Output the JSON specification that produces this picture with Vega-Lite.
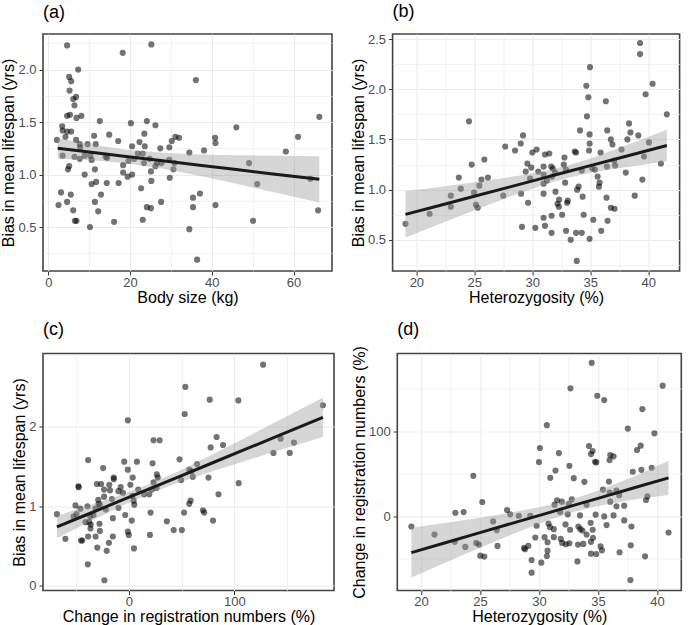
{
  "$schema": "https://vega.github.io/schema/vega-lite/v6.json",
  "padding": {"left": 0, "top": 2, "right": 0, "bottom": 0},
  "background": "white",
  "config": {
    "font": "Liberation Sans",
    "view": {"stroke": "#444444", "strokeWidth": 1.6},
    "axis": {"domain": false, "tickCount": 100, "gridColor": "#EBEBEB", "tickColor": "#333333", "tickSize": 4, "tickWidth": 1, "labelPadding": 3, "labelColor": "#4D4D4D", "labelFontSize": 13, "titleFontSize": 16, "titleFontWeight": "normal", "titleColor": "#000000"},
    "axisX": {"titlePadding": 0, "labelPadding": 1},
    "axisY": {"titlePadding": 1},
    "title": {"fontSize": 18, "fontWeight": "normal", "anchor": "start", "frame": "group", "baseline": "alphabetic", "offset": 12, "color": "#000000"}
  },
  "datasets": {
    "a_pts": [
      {"x":4.6,"y":2.23},{"x":18.2,"y":2.16},{"x":25.2,"y":2.24},{"x":7.3,"y":2.0},{"x":36.1,"y":1.9},{"x":5.1,"y":1.93},{"x":5.6,"y":1.89},{"x":5.2,"y":1.8},{"x":6.1,"y":1.72},{"x":6.8,"y":1.74},{"x":6.4,"y":1.66},{"x":5.3,"y":1.57},{"x":4.6,"y":1.56},{"x":6.9,"y":1.54},{"x":8.1,"y":1.56},{"x":66.3,"y":1.55},{"x":12.6,"y":1.51},{"x":24.1,"y":1.51},{"x":20.2,"y":1.49},{"x":26.2,"y":1.47},{"x":3.4,"y":1.46},{"x":46.0,"y":1.45},{"x":3.5,"y":1.42},{"x":4.6,"y":1.41},{"x":5.6,"y":1.41},{"x":4.2,"y":1.36},{"x":23.5,"y":1.39},{"x":14.9,"y":1.38},{"x":2.1,"y":1.33},{"x":6.8,"y":1.33},{"x":11.2,"y":1.37},{"x":40.8,"y":1.35},{"x":61.1,"y":1.36},{"x":31.1,"y":1.36},{"x":32.0,"y":1.35},{"x":30.2,"y":1.32},{"x":17.1,"y":1.32},{"x":22.3,"y":1.31},{"x":40.9,"y":1.3},{"x":7.7,"y":1.29},{"x":9.6,"y":1.29},{"x":11.6,"y":1.29},{"x":7.8,"y":1.26},{"x":23.6,"y":1.27},{"x":20.5,"y":1.27},{"x":27.4,"y":1.25},{"x":29.6,"y":1.26},{"x":38.1,"y":1.23},{"x":58.1,"y":1.22},{"x":34.5,"y":1.21},{"x":21.9,"y":1.2},{"x":23.1,"y":1.2},{"x":3.5,"y":1.18},{"x":6.4,"y":1.17},{"x":8.9,"y":1.18},{"x":10.3,"y":1.18},{"x":14.0,"y":1.17},{"x":14.4,"y":1.16},{"x":21.0,"y":1.15},{"x":7.7,"y":1.15},{"x":10.6,"y":1.14},{"x":24.8,"y":1.15},{"x":19.6,"y":1.13},{"x":29.6,"y":1.14},{"x":26.6,"y":1.11},{"x":27.7,"y":1.11},{"x":23.4,"y":1.11},{"x":49.1,"y":1.11},{"x":30.9,"y":1.11},{"x":4.8,"y":1.05},{"x":5.1,"y":1.08},{"x":11.4,"y":1.05},{"x":18.3,"y":1.09},{"x":26.2,"y":1.08},{"x":30.6,"y":1.05},{"x":18.3,"y":1.02},{"x":25.1,"y":1.03},{"x":20.5,"y":1.0},{"x":8.9,"y":1.0},{"x":19.4,"y":0.98},{"x":29.7,"y":0.97},{"x":64.1,"y":0.96},{"x":25.2,"y":0.94},{"x":10.6,"y":0.91},{"x":11.7,"y":0.93},{"x":14.3,"y":0.92},{"x":17.2,"y":0.92},{"x":51.1,"y":0.91},{"x":22.7,"y":0.87},{"x":3.1,"y":0.83},{"x":12.9,"y":0.81},{"x":5.5,"y":0.81},{"x":37.1,"y":0.82},{"x":35.4,"y":0.78},{"x":2.5,"y":0.71},{"x":4.6,"y":0.74},{"x":11.4,"y":0.74},{"x":27.6,"y":0.74},{"x":40.9,"y":0.71},{"x":35.4,"y":0.69},{"x":24.1,"y":0.69},{"x":25.1,"y":0.68},{"x":6.1,"y":0.66},{"x":12.2,"y":0.65},{"x":66.0,"y":0.66},{"x":23.1,"y":0.57},{"x":6.5,"y":0.56},{"x":6.9,"y":0.56},{"x":16.1,"y":0.55},{"x":50.1,"y":0.56},{"x":10.2,"y":0.5},{"x":34.5,"y":0.48},{"x":36.4,"y":0.19}
    ],
    "a_fit": [
      {"x":2.3,"lo":1.152,"fit":1.25,"hi":1.348},{"x":10,"lo":1.139,"fit":1.2145,"hi":1.29},{"x":19,"lo":1.109,"fit":1.173,"hi":1.237},{"x":28,"lo":1.056,"fit":1.1315,"hi":1.207},{"x":37,"lo":0.988,"fit":1.09,"hi":1.192},{"x":46,"lo":0.912,"fit":1.048,"hi":1.184},{"x":56,"lo":0.825,"fit":1.002,"hi":1.179},{"x":66.3,"lo":0.735,"fit":0.955,"hi":1.175}
    ],
    "b_pts": [
      {"x":39.29,"y":2.46},{"x":39.29,"y":2.35},{"x":34.97,"y":2.22},{"x":40.37,"y":2.055},{"x":34.66,"y":2.035},{"x":39.77,"y":1.95},{"x":34.83,"y":1.92},{"x":36.34,"y":1.88},{"x":24.54,"y":1.68},{"x":41.6,"y":1.75},{"x":38.34,"y":1.66},{"x":34.71,"y":1.73},{"x":34.11,"y":1.59},{"x":36.46,"y":1.59},{"x":38.46,"y":1.57},{"x":34.94,"y":1.55},{"x":29.2,"y":1.54},{"x":39.14,"y":1.54},{"x":36.77,"y":1.5},{"x":38.2,"y":1.5},{"x":29.0,"y":1.46},{"x":34.94,"y":1.46},{"x":40.06,"y":1.47},{"x":36.91,"y":1.45},{"x":27.66,"y":1.43},{"x":28.51,"y":1.39},{"x":30.37,"y":1.4},{"x":34.89,"y":1.39},{"x":37.69,"y":1.4},{"x":30.0,"y":1.37},{"x":33.66,"y":1.38},{"x":33.77,"y":1.37},{"x":35.89,"y":1.37},{"x":31.46,"y":1.36},{"x":31.09,"y":1.35},{"x":25.86,"y":1.3},{"x":32.77,"y":1.32},{"x":39.63,"y":1.33},{"x":37.06,"y":1.29},{"x":41.09,"y":1.26},{"x":24.77,"y":1.25},{"x":29.57,"y":1.26},{"x":32.71,"y":1.25},{"x":31.63,"y":1.23},{"x":30.97,"y":1.23},{"x":36.43,"y":1.23},{"x":37.14,"y":1.24},{"x":35.17,"y":1.21},{"x":29.91,"y":1.22},{"x":31.77,"y":1.21},{"x":38.06,"y":1.17},{"x":32.9,"y":1.2},{"x":34.26,"y":1.19},{"x":35.4,"y":1.2},{"x":31.97,"y":1.17},{"x":30.51,"y":1.18},{"x":29.43,"y":1.18},{"x":26.17,"y":1.12},{"x":23.66,"y":1.12},{"x":25.61,"y":1.1},{"x":29.8,"y":1.11},{"x":35.63,"y":1.13},{"x":39.49,"y":1.1},{"x":30.97,"y":1.15},{"x":31.71,"y":1.13},{"x":31.26,"y":1.09},{"x":32.83,"y":1.07},{"x":35.74,"y":1.03},{"x":35.8,"y":1.07},{"x":30.97,"y":1.06},{"x":34.0,"y":1.03},{"x":23.83,"y":1.01},{"x":25.43,"y":1.04},{"x":24.97,"y":0.97},{"x":29.03,"y":0.96},{"x":30.97,"y":0.96},{"x":27.49,"y":0.94},{"x":22.97,"y":0.94},{"x":33.86,"y":1.0},{"x":34.34,"y":0.93},{"x":36.4,"y":0.92},{"x":38.83,"y":0.94},{"x":32.0,"y":0.98},{"x":19.06,"y":0.66},{"x":21.14,"y":0.76},{"x":22.97,"y":0.83},{"x":25.14,"y":0.85},{"x":25.29,"y":0.82},{"x":29.63,"y":0.87},{"x":32.31,"y":0.9},{"x":33.06,"y":0.89},{"x":33.0,"y":0.87},{"x":32.17,"y":0.86},{"x":32.29,"y":0.83},{"x":32.57,"y":0.75},{"x":34.43,"y":0.75},{"x":36.77,"y":0.82},{"x":37.09,"y":0.81},{"x":30.97,"y":0.72},{"x":31.66,"y":0.74},{"x":31.09,"y":0.64},{"x":29.11,"y":0.63},{"x":30.26,"y":0.62},{"x":31.66,"y":0.57},{"x":32.91,"y":0.59},{"x":35.26,"y":0.7},{"x":36.49,"y":0.69},{"x":35.94,"y":0.59},{"x":33.77,"y":0.57},{"x":34.26,"y":0.57},{"x":33.31,"y":0.5},{"x":34.94,"y":0.51},{"x":33.83,"y":0.29}
    ],
    "b_fit": [
      {"x":19.06,"lo":0.524,"fit":0.754,"hi":0.984},{"x":22,"lo":0.658,"fit":0.842,"hi":1.026},{"x":25,"lo":0.795,"fit":0.934,"hi":1.073},{"x":28,"lo":0.927,"fit":1.025,"hi":1.123},{"x":31,"lo":1.05,"fit":1.117,"hi":1.184},{"x":33,"lo":1.117,"fit":1.178,"hi":1.239},{"x":35,"lo":1.168,"fit":1.239,"hi":1.31},{"x":38,"lo":1.224,"fit":1.33,"hi":1.436},{"x":41.6,"lo":1.283,"fit":1.44,"hi":1.597}
    ],
    "c_pts": [
      {"x":127.1,"y":2.78},{"x":53.5,"y":2.5},{"x":76.6,"y":2.34},{"x":103.7,"y":2.33},{"x":183.7,"y":2.27},{"x":52.9,"y":2.16},{"x":-0.9,"y":2.08},{"x":23.4,"y":1.83},{"x":29.2,"y":1.83},{"x":83.1,"y":1.87},{"x":89.2,"y":1.77},{"x":77.5,"y":1.74},{"x":143.7,"y":1.85},{"x":156.3,"y":1.8},{"x":136.9,"y":1.67},{"x":152.3,"y":1.67},{"x":-38.5,"y":1.58},{"x":-4.3,"y":1.56},{"x":7.7,"y":1.56},{"x":48.0,"y":1.59},{"x":22.5,"y":1.54},{"x":64.6,"y":1.53},{"x":-24.3,"y":1.48},{"x":-0.9,"y":1.46},{"x":57.2,"y":1.46},{"x":59.4,"y":1.44},{"x":26.5,"y":1.4},{"x":3.7,"y":1.36},{"x":60.6,"y":1.37},{"x":75.4,"y":1.36},{"x":-14.2,"y":1.36},{"x":-14.2,"y":1.34},{"x":49.5,"y":1.33},{"x":23.4,"y":1.3},{"x":27.4,"y":1.36},{"x":104.0,"y":1.29},{"x":-30.2,"y":1.28},{"x":-26.2,"y":1.28},{"x":-18.5,"y":1.27},{"x":1.5,"y":1.27},{"x":-7.7,"y":1.24},{"x":-47.7,"y":1.25},{"x":-47.4,"y":1.24},{"x":-23.4,"y":1.21},{"x":8.9,"y":1.21},{"x":21.8,"y":1.21},{"x":26.2,"y":1.23},{"x":-9.8,"y":1.19},{"x":-5.5,"y":1.17},{"x":14.5,"y":1.15},{"x":19.4,"y":1.15},{"x":-17.8,"y":1.2},{"x":84.9,"y":1.15},{"x":-23.4,"y":1.12},{"x":-16.0,"y":1.09},{"x":3.4,"y":1.13},{"x":4.6,"y":1.07},{"x":-28.9,"y":1.08},{"x":58.5,"y":1.07},{"x":57.2,"y":1.03},{"x":5.2,"y":1.02},{"x":-28.6,"y":1.03},{"x":-27.4,"y":1.02},{"x":-50.5,"y":1.01},{"x":-39.1,"y":1.0},{"x":-9.8,"y":0.98},{"x":-31.4,"y":0.97},{"x":-21.8,"y":0.96},{"x":-45.8,"y":0.97},{"x":-49.5,"y":0.9},{"x":-68.0,"y":0.9},{"x":70.2,"y":0.95},{"x":71.4,"y":0.92},{"x":52.3,"y":0.92},{"x":20.6,"y":0.92},{"x":-3.4,"y":0.89},{"x":-36.6,"y":0.87},{"x":-33.5,"y":0.89},{"x":-15.1,"y":0.85},{"x":-52.3,"y":0.87},{"x":-37.5,"y":0.8},{"x":-40.9,"y":0.8},{"x":-36.0,"y":0.77},{"x":2.8,"y":0.82},{"x":36.0,"y":0.81},{"x":79.7,"y":0.82},{"x":-27.7,"y":0.78},{"x":-36.3,"y":0.72},{"x":42.5,"y":0.7},{"x":50.2,"y":0.7},{"x":-27.4,"y":0.69},{"x":-0.9,"y":0.68},{"x":0,"y":0.64},{"x":-15.1,"y":0.62},{"x":-31.4,"y":0.62},{"x":-38.5,"y":0.62},{"x":20.0,"y":0.64},{"x":-60.0,"y":0.59},{"x":-45.2,"y":0.57},{"x":-44.0,"y":0.57},{"x":-18.8,"y":0.54},{"x":-29.8,"y":0.48},{"x":4.9,"y":0.47},{"x":-20.9,"y":0.44},{"x":-38.8,"y":0.27},{"x":-23.1,"y":0.07}
    ],
    "c_fit": [
      {"x":-68,"lo":0.598,"fit":0.74,"hi":0.882},{"x":-40,"lo":0.787,"fit":0.893,"hi":0.999},{"x":-10,"lo":0.983,"fit":1.057,"hi":1.131},{"x":20,"lo":1.161,"fit":1.221,"hi":1.281},{"x":50,"lo":1.311,"fit":1.385,"hi":1.459},{"x":80,"lo":1.444,"fit":1.55,"hi":1.656},{"x":110,"lo":1.569,"fit":1.714,"hi":1.859},{"x":140,"lo":1.693,"fit":1.878,"hi":2.064},{"x":183.7,"lo":1.87,"fit":2.117,"hi":2.364}
    ],
    "d_pts": [
      {"x":34.47,"y":180.3},{"x":32.67,"y":150.4},{"x":40.48,"y":153.5},{"x":34.94,"y":141.7},{"x":35.53,"y":136.6},{"x":38.76,"y":126.0},{"x":30.67,"y":107.1},{"x":37.53,"y":103.1},{"x":39.78,"y":97.6},{"x":30.08,"y":80.3},{"x":34.24,"y":82.7},{"x":38.62,"y":83.1},{"x":38.31,"y":78.0},{"x":31.69,"y":74.4},{"x":34.55,"y":76.8},{"x":34.41,"y":73.2},{"x":36.04,"y":72.0},{"x":36.32,"y":70.5},{"x":35.98,"y":66.1},{"x":34.75,"y":64.2},{"x":30.0,"y":63.8},{"x":34.86,"y":63.4},{"x":32.58,"y":59.4},{"x":39.55,"y":57.1},{"x":38.68,"y":54.7},{"x":31.4,"y":53.9},{"x":37.95,"y":52.4},{"x":24.44,"y":47.6},{"x":30.96,"y":45.3},{"x":32.95,"y":44.9},{"x":33.85,"y":40.6},{"x":35.93,"y":40.9},{"x":35.42,"y":31.5},{"x":36.57,"y":30.3},{"x":35.98,"y":28.0},{"x":36.8,"y":24.8},{"x":39.19,"y":23.6},{"x":39.07,"y":19.3},{"x":36.04,"y":17.3},{"x":32.78,"y":20.1},{"x":31.54,"y":18.9},{"x":31.94,"y":17.3},{"x":31.32,"y":13.8},{"x":36.57,"y":11.8},{"x":37.22,"y":12.6},{"x":34.04,"y":13.8},{"x":32.53,"y":14.6},{"x":25.2,"y":16.9},{"x":27.3,"y":7.5},{"x":27.56,"y":2.4},{"x":22.92,"y":4.3},{"x":23.62,"y":5.1},{"x":34.8,"y":2.0},{"x":32.44,"y":2.4},{"x":31.8,"y":5.1},{"x":36.32,"y":1.2},{"x":28.29,"y":0.8},{"x":29.27,"y":0.8},{"x":35.53,"y":0},{"x":26.12,"y":-5.9},{"x":37.22,"y":-4.7},{"x":33.48,"y":1.2},{"x":19.19,"y":-11.8},{"x":37.84,"y":-11.8},{"x":29.8,"y":-11.0},{"x":30.81,"y":-8.3},{"x":32.25,"y":-9.4},{"x":30.93,"y":-12.6},{"x":31.26,"y":-15.0},{"x":33.34,"y":-11.8},{"x":34.38,"y":-7.5},{"x":35.73,"y":-10.2},{"x":32.64,"y":-15.7},{"x":33.51,"y":-15.0},{"x":33.68,"y":-16.5},{"x":34.55,"y":-15.7},{"x":21.15,"y":-21.3},{"x":26.43,"y":-16.1},{"x":40.98,"y":-18.9},{"x":29.69,"y":-24.8},{"x":30.48,"y":-24.4},{"x":31.26,"y":-24.4},{"x":31.85,"y":-26.4},{"x":34.04,"y":-21.3},{"x":34.58,"y":-25.2},{"x":22.87,"y":-29.9},{"x":24.69,"y":-31.1},{"x":24.92,"y":-33.1},{"x":30.73,"y":-30.3},{"x":31.97,"y":-31.1},{"x":32.28,"y":-32.7},{"x":32.58,"y":-31.5},{"x":33.76,"y":-32.3},{"x":33.31,"y":-33.1},{"x":34.41,"y":-29.9},{"x":23.76,"y":-35.8},{"x":26.49,"y":-34.6},{"x":28.74,"y":-37.0},{"x":29.1,"y":-34.6},{"x":28.82,"y":-38.6},{"x":35.22,"y":-35.0},{"x":35.34,"y":-39.8},{"x":37.78,"y":-33.9},{"x":30.73,"y":-40.2},{"x":34.85,"y":-44.1},{"x":34.41,"y":-43.7},{"x":36.83,"y":-42.1},{"x":25.03,"y":-46.1},{"x":25.37,"y":-47.2},{"x":30.67,"y":-46.5},{"x":38.99,"y":-46.9},{"x":29.38,"y":-51.2},{"x":30.2,"y":-54.3},{"x":33.26,"y":-52.8},{"x":29.38,"y":-66.1},{"x":37.75,"y":-74.8}
    ],
    "d_fit": [
      {"x":19.19,"lo":-71.7,"fit":-42.5,"hi":-13.3},{"x":22,"lo":-54.6,"fit":-31.2,"hi":-7.8},{"x":25,"lo":-36.75,"fit":-19.1,"hi":-1.45},{"x":28,"lo":-19.4,"fit":-7.0,"hi":5.4},{"x":31,"lo":-3.4,"fit":5.1,"hi":13.6},{"x":33,"lo":5.45,"fit":13.2,"hi":20.95},{"x":35,"lo":12.13,"fit":21.2,"hi":30.27},{"x":38,"lo":19.9,"fit":33.3,"hi":46.7},{"x":40.98,"lo":25.2,"fit":45.3,"hi":65.4}
    ]
  },
  "vconcat": [
    {
      "bounds": "flush",
      "spacing": 60.6,
      "hconcat": [
        {
          "width": 289, "height": 237, "title": "(a)",
          "layer": [
            {"data": {"name": "a_pts"}, "mark": {"type": "circle", "color": "#000000", "opacity": 0.55, "size": 38},
             "encoding": {
               "x": {"field": "x", "type": "quantitative", "scale": {"domain": [-1.3, 69.4], "nice": false, "zero": false},
                     "axis": {"title": "Body size (kg)", "tickCount": 100, "values": [0,10,20,30,40,50,60], "format": "d", "labelExpr": "datum.value % 20 === 0 ? datum.label : ''", "tickOpacity": {"condition": {"test": "datum.value % 20 === 0", "value": 1}, "value": 0}, "gridWidth": {"condition": {"test": "datum.value % 20 === 0", "value": 1.1}, "value": 0.6}}},
               "y": {"field": "y", "type": "quantitative", "scale": {"domain": [0.082, 2.339], "nice": false, "zero": false},
                     "axis": {"title": "Bias in mean lifespan (yrs)", "tickCount": 100, "values": [0.25,0.5,0.75,1,1.25,1.5,1.75,2,2.25], "format": ".1f", "labelExpr": "datum.value * 2 === round(datum.value * 2) ? datum.label : ''", "tickOpacity": {"condition": {"test": "datum.value * 2 === round(datum.value * 2)", "value": 1}, "value": 0}, "gridWidth": {"condition": {"test": "datum.value * 2 === round(datum.value * 2)", "value": 1.1}, "value": 0.6}}}
             }},
            {"data": {"name": "a_fit"}, "mark": {"type": "area", "color": "#999999", "opacity": 0.4},
             "encoding": {"x": {"field": "x", "type": "quantitative", "scale": {"domain": [-1.3, 69.4], "nice": false, "zero": false}}, "y": {"field": "lo", "type": "quantitative", "scale": {"domain": [0.082, 2.339], "nice": false, "zero": false}}, "y2": {"field": "hi"}}},
            {"data": {"name": "a_fit"}, "mark": {"type": "line", "color": "#1a1a1a", "strokeWidth": 3},
             "encoding": {"x": {"field": "x", "type": "quantitative", "scale": {"domain": [-1.3, 69.4], "nice": false, "zero": false}}, "y": {"field": "fit", "type": "quantitative", "scale": {"domain": [0.082, 2.339], "nice": false, "zero": false}}}}
          ]
        },
        {
          "width": 287, "height": 237, "title": "(b)",
          "layer": [
            {"data": {"name": "b_pts"}, "mark": {"type": "circle", "color": "#000000", "opacity": 0.55, "size": 38},
             "encoding": {
               "x": {"field": "x", "type": "quantitative", "scale": {"domain": [17.95, 42.7], "nice": false, "zero": false},
                     "axis": {"title": "Heterozygosity (%)", "tickCount": 100, "values": [20,22.5,25,27.5,30,32.5,35,37.5,40], "format": "d", "labelExpr": "datum.value % 5 === 0 ? datum.label : ''", "tickOpacity": {"condition": {"test": "datum.value % 5 === 0", "value": 1}, "value": 0}, "gridWidth": {"condition": {"test": "datum.value % 5 === 0", "value": 1.1}, "value": 0.6}}},
               "y": {"field": "y", "type": "quantitative", "scale": {"domain": [0.19, 2.55], "nice": false, "zero": false},
                     "axis": {"title": "Bias in mean lifespan (yrs)", "tickCount": 100, "values": [0.25,0.5,0.75,1,1.25,1.5,1.75,2,2.25,2.5], "format": ".1f", "labelExpr": "datum.value * 2 === round(datum.value * 2) ? datum.label : ''", "tickOpacity": {"condition": {"test": "datum.value * 2 === round(datum.value * 2)", "value": 1}, "value": 0}, "gridWidth": {"condition": {"test": "datum.value * 2 === round(datum.value * 2)", "value": 1.1}, "value": 0.6}}}
             }},
            {"data": {"name": "b_fit"}, "mark": {"type": "area", "color": "#999999", "opacity": 0.4},
             "encoding": {"x": {"field": "x", "type": "quantitative", "scale": {"domain": [17.95, 42.7], "nice": false, "zero": false}}, "y": {"field": "lo", "type": "quantitative", "scale": {"domain": [0.19, 2.55], "nice": false, "zero": false}}, "y2": {"field": "hi"}}},
            {"data": {"name": "b_fit"}, "mark": {"type": "line", "color": "#1a1a1a", "strokeWidth": 3},
             "encoding": {"x": {"field": "x", "type": "quantitative", "scale": {"domain": [17.95, 42.7], "nice": false, "zero": false}}, "y": {"field": "fit", "type": "quantitative", "scale": {"domain": [0.19, 2.55], "nice": false, "zero": false}}}}
          ]
        }
      ]
    },
    {
      "bounds": "flush",
      "spacing": 63.3,
      "hconcat": [
        {
          "width": 291, "height": 237, "title": {"text": "(c)", "offset": 15},
          "layer": [
            {"data": {"name": "c_pts"}, "mark": {"type": "circle", "color": "#000000", "opacity": 0.55, "size": 38},
             "encoding": {
               "x": {"field": "x", "type": "quantitative", "scale": {"domain": [-81.2, 194.2], "nice": false, "zero": false},
                     "axis": {"title": "Change in registration numbers (%)", "tickCount": 100, "values": [-50,0,50,100,150], "format": "d", "labelExpr": "datum.value % 100 === 0 ? datum.label : ''", "tickOpacity": {"condition": {"test": "datum.value % 100 === 0", "value": 1}, "value": 0}, "gridWidth": {"condition": {"test": "datum.value % 100 === 0", "value": 1.1}, "value": 0.6}}},
               "y": {"field": "y", "type": "quantitative", "scale": {"domain": [-0.059, 2.92], "nice": false, "zero": false},
                     "axis": {"title": "Bias in mean lifespan (yrs)", "tickCount": 100, "values": [0,0.5,1,1.5,2,2.5], "format": "d", "labelExpr": "datum.value === round(datum.value) ? datum.label : ''", "tickOpacity": {"condition": {"test": "datum.value === round(datum.value)", "value": 1}, "value": 0}, "gridWidth": {"condition": {"test": "datum.value === round(datum.value)", "value": 1.1}, "value": 0.6}}}
             }},
            {"data": {"name": "c_fit"}, "mark": {"type": "area", "color": "#999999", "opacity": 0.4},
             "encoding": {"x": {"field": "x", "type": "quantitative", "scale": {"domain": [-81.2, 194.2], "nice": false, "zero": false}}, "y": {"field": "lo", "type": "quantitative", "scale": {"domain": [-0.059, 2.92], "nice": false, "zero": false}}, "y2": {"field": "hi"}}},
            {"data": {"name": "c_fit"}, "mark": {"type": "line", "color": "#1a1a1a", "strokeWidth": 3},
             "encoding": {"x": {"field": "x", "type": "quantitative", "scale": {"domain": [-81.2, 194.2], "nice": false, "zero": false}}, "y": {"field": "fit", "type": "quantitative", "scale": {"domain": [-0.059, 2.92], "nice": false, "zero": false}}}}
          ]
        },
        {
          "width": 284, "height": 237, "title": {"text": "(d)", "offset": 7},
          "layer": [
            {"data": {"name": "d_pts"}, "mark": {"type": "circle", "color": "#000000", "opacity": 0.55, "size": 38},
             "encoding": {
               "x": {"field": "x", "type": "quantitative", "scale": {"domain": [18.0, 42.06], "nice": false, "zero": false},
                     "axis": {"title": "Heterozygosity (%)", "tickCount": 100, "values": [20,22.5,25,27.5,30,32.5,35,37.5,40], "format": "d", "labelExpr": "datum.value % 5 === 0 ? datum.label : ''", "tickOpacity": {"condition": {"test": "datum.value % 5 === 0", "value": 1}, "value": 0}, "gridWidth": {"condition": {"test": "datum.value % 5 === 0", "value": 1.1}, "value": 0.6}}},
               "y": {"field": "y", "type": "quantitative", "scale": {"domain": [-87, 191.3], "nice": false, "zero": false},
                     "axis": {"title": "Change in registration numbers (%)", "tickCount": 100, "values": [-50,0,50,100,150], "format": "d", "labelExpr": "datum.value % 100 === 0 ? datum.label : ''", "tickOpacity": {"condition": {"test": "datum.value % 100 === 0", "value": 1}, "value": 0}, "gridWidth": {"condition": {"test": "datum.value % 100 === 0", "value": 1.1}, "value": 0.6}}}
             }},
            {"data": {"name": "d_fit"}, "mark": {"type": "area", "color": "#999999", "opacity": 0.4},
             "encoding": {"x": {"field": "x", "type": "quantitative", "scale": {"domain": [18.0, 42.06], "nice": false, "zero": false}}, "y": {"field": "lo", "type": "quantitative", "scale": {"domain": [-87, 191.3], "nice": false, "zero": false}}, "y2": {"field": "hi"}}},
            {"data": {"name": "d_fit"}, "mark": {"type": "line", "color": "#1a1a1a", "strokeWidth": 3},
             "encoding": {"x": {"field": "x", "type": "quantitative", "scale": {"domain": [18.0, 42.06], "nice": false, "zero": false}}, "y": {"field": "fit", "type": "quantitative", "scale": {"domain": [-87, 191.3], "nice": false, "zero": false}}}}
          ]
        }
      ]
    }
  ],
  "spacing": 13.5
}
